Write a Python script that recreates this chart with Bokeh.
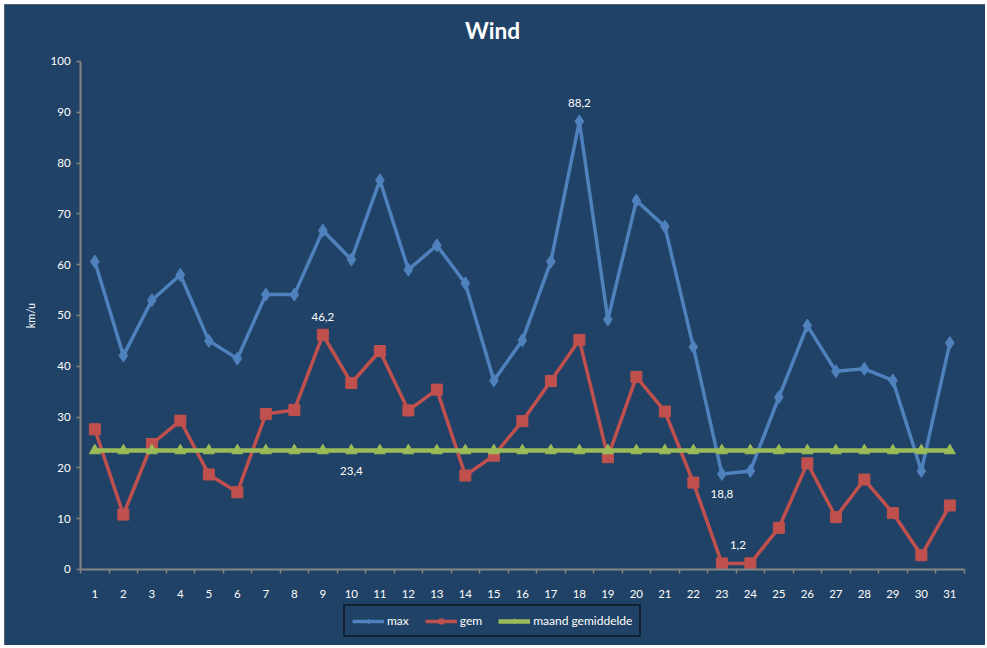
from math import pi
from bokeh.plotting import figure
from bokeh.models import FixedTicker, Legend, LegendItem, Label
from bokeh.embed import file_html
from bokeh.resources import INLINE

days = list(range(1, 32))
max_wind = [60.6, 42.1, 53.0, 58.0, 45.0, 41.5, 54.1, 54.1, 66.7, 61.0,
            76.6, 59.0, 63.8, 56.3, 37.2, 45.1, 60.6, 88.2, 49.2, 72.6,
            67.5, 43.8, 18.8, 19.4, 33.9, 48.0, 39.0, 39.5, 37.2, 19.4, 44.6]
gem_wind = [27.6, 10.8, 24.7, 29.3, 18.7, 15.2, 30.6, 31.4, 46.2, 36.7,
            43.0, 31.3, 35.4, 18.5, 22.4, 29.2, 37.1, 45.2, 22.1, 37.9,
            31.1, 17.1, 1.2, 1.2, 8.2, 20.9, 10.3, 17.7, 11.1, 2.8, 12.6]
maand_gem = [23.4] * 31
y_ticks = [0, 10, 20, 30, 40, 50, 60, 70, 80, 90, 100]

BG = "#1f4266"
FONT = "Lato"
BLUE, RED, GREEN = "#4f81bd", "#c0504d", "#9bbb59"
AXIS = "#858585"

# the frame fills the whole figure; axes are pinned at x=0.5 / y=0 and the
# title, axis title and legend are placed in screen units inside it
p = figure(width=981, height=641, output_backend="svg", toolbar_location=None, title=None,
           x_range=(-2.17, 32.25), y_range=(-14.96, 111.2),
           min_border_left=0, min_border_right=0, min_border_top=0, min_border_bottom=0)
p.background_fill_color = BG
p.border_fill_color = BG
p.outline_line_color = None
p.grid.visible = False
p.styles = {"margin": "4px 0 0 4px", "outline": f"2px solid {AXIS}", "outline-offset": "-2px"}

for ax in (p.xaxis, p.yaxis):
    ax.axis_line_color = AXIS
    ax.axis_line_width = 2
    ax.major_tick_line_color = AXIS
    ax.minor_tick_line_color = AXIS
    ax.major_tick_line_width = 1.5
    ax.minor_tick_line_width = 1.5
    ax.major_label_text_color = "white"
    ax.major_label_text_font = FONT
    ax.major_label_text_font_size = "11.5px"

p.xaxis.fixed_location = 0
p.xaxis.bounds = (0.5, 31.5)
p.xaxis.ticker = FixedTicker(ticks=days, minor_ticks=[d - 0.5 for d in days] + [31.5])
p.xaxis.major_tick_out = 0
p.xaxis.major_tick_in = 0
p.xaxis.minor_tick_out = 4
p.xaxis.minor_tick_in = 0
p.xaxis.major_label_standoff = 17

p.yaxis.fixed_location = 0.5
p.yaxis.bounds = (0, 100)
p.yaxis.ticker = FixedTicker(ticks=y_ticks)
p.yaxis.major_tick_out = 4
p.yaxis.major_tick_in = 0
p.yaxis.minor_tick_out = 0
p.yaxis.major_label_standoff = 6

p.add_layout(Label(x=488, y=615, x_units="screen", y_units="screen", text="Wind",
                   text_align="center", text_baseline="middle", text_color="white",
                   text_font=FONT, text_font_size="17pt", text_font_style="bold"))
p.add_layout(Label(x=26, y=330, x_units="screen", y_units="screen", text="km/u", angle=pi / 2,
                   text_align="center", text_baseline="middle", text_color="white",
                   text_font=FONT, text_font_size="11px"))

l_max = p.line(days, max_wind, line_color=BLUE, line_width=3.5)
s_max = p.scatter(days, max_wind, marker="diamond", size=13, fill_color=BLUE, line_color=BLUE)
l_gem = p.line(days, gem_wind, line_color=RED, line_width=3.5)
s_gem = p.scatter(days, gem_wind, marker="square", size=11, fill_color=RED, line_color=RED)
l_avg = p.line(days, maand_gem, line_color=GREEN, line_width=4.5)
s_avg = p.scatter(days, maand_gem, marker="triangle", size=11, fill_color=GREEN, line_color=GREEN)


def data_label(day, series, dx, dy):
    v = series[day - 1]
    p.text([day], [v], text=[f"{v:.1f}".replace(".", ",")], x_offset=dx, y_offset=dy,
           text_align="center", text_baseline="middle", text_color="white",
           text_font_size="11.5px", text_font={"value": FONT})


data_label(9, gem_wind, 0, -18)
data_label(18, max_wind, 0, -18)
data_label(10, maand_gem, 0, 20)
data_label(23, max_wind, 0, 20)
data_label(23, gem_wind, 16, -18)

legend = Legend(items=[LegendItem(label="max", renderers=[l_max, s_max]),
                       LegendItem(label="gem", renderers=[l_gem, s_gem]),
                       LegendItem(label="maand gemiddelde", renderers=[l_avg, s_avg])],
                orientation="horizontal", location=(339, 8),
                background_fill_color=BG, background_fill_alpha=1,
                border_line_color="black", border_line_width=2,
                label_text_color="white", label_text_font=FONT, label_text_font_size="12px",
                glyph_width=32, glyph_height=12, spacing=16, padding=7, margin=0,
                label_standoff=3, label_height=12)
p.add_layout(legend)

open("out.html", "w").write(file_html(p, INLINE))
